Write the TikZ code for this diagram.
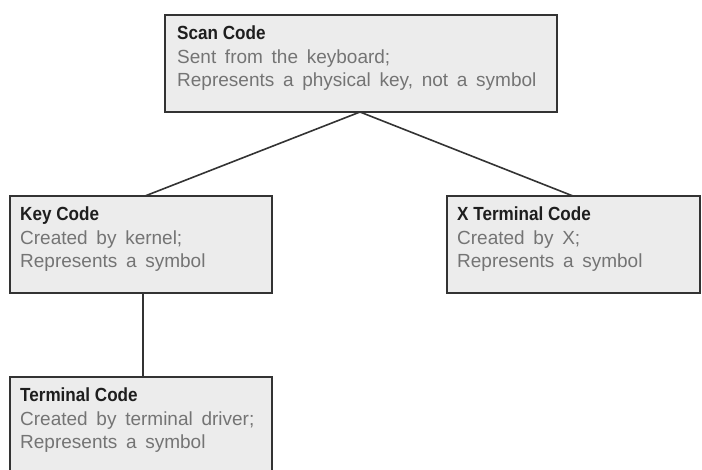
\documentclass[tikz,border=0pt]{standalone}
\usepackage{fontspec}
\setmainfont{Liberation Sans}[WordSpace=1.65,
  BoldFeatures={WordSpace=1.0,FakeStretch=0.9}]
\definecolor{boxfill}{HTML}{ECECEC}
\definecolor{boxline}{HTML}{333333}
\definecolor{bodytext}{HTML}{747474}
\definecolor{titletext}{HTML}{1E1E1E}
\tikzset{
  codebox/.style={draw=boxline, line width=2.2pt, fill=boxfill},
  boxtext/.style={anchor=north west, align=left, inner sep=0pt,
    font=\fontsize{19}{23.5}\selectfont, text=bodytext},
  link/.style={draw=boxline, line width=1.6pt}
}
\newcommand{\boxtitle}[1]{{\bfseries\color{titletext}#1}}
\begin{document}
\begin{tikzpicture}[x=1pt,y=-1pt]
  \useasboundingbox (0,0) rectangle (702,469);
  \fill[white] (0,0) rectangle (702,469);
  \clip (0,0) rectangle (702,469);

  % boxes
  \draw[codebox] (165,15) rectangle (557,112);
  \draw[codebox] (10,196) rectangle (272,293);
  \draw[codebox] (447,196) rectangle (700,293);
  \draw[codebox] (10,377) rectangle (272,474);

  % anchor points for the connectors
  \coordinate (scanB) at (360,112);
  \coordinate (keyT) at (145,196);
  \coordinate (keyB) at (143,293);
  \coordinate (xtermT) at (573,196);
  \coordinate (termT) at (143,377);

  \draw[link] (scanB) -- (keyT);
  \draw[link] (scanB) -- (xtermT);
  \draw[link] (keyB) -- (termT);

  % labels
  \node[boxtext] (scan) at (177,26)
    {\boxtitle{Scan Code}\\Sent from the keyboard;\\Represents a physical key, not a symbol};
  \node[boxtext] (key) at (20,207)
    {\boxtitle{Key Code}\\Created by kernel;\\Represents a symbol};
  \node[boxtext] (xterm) at (457,207)
    {\boxtitle{X Terminal Code}\\Created by X;\\Represents a symbol};
  \node[boxtext] (term) at (20,388)
    {\boxtitle{Terminal Code}\\Created by terminal driver;\\Represents a symbol};
\end{tikzpicture}
\end{document}
